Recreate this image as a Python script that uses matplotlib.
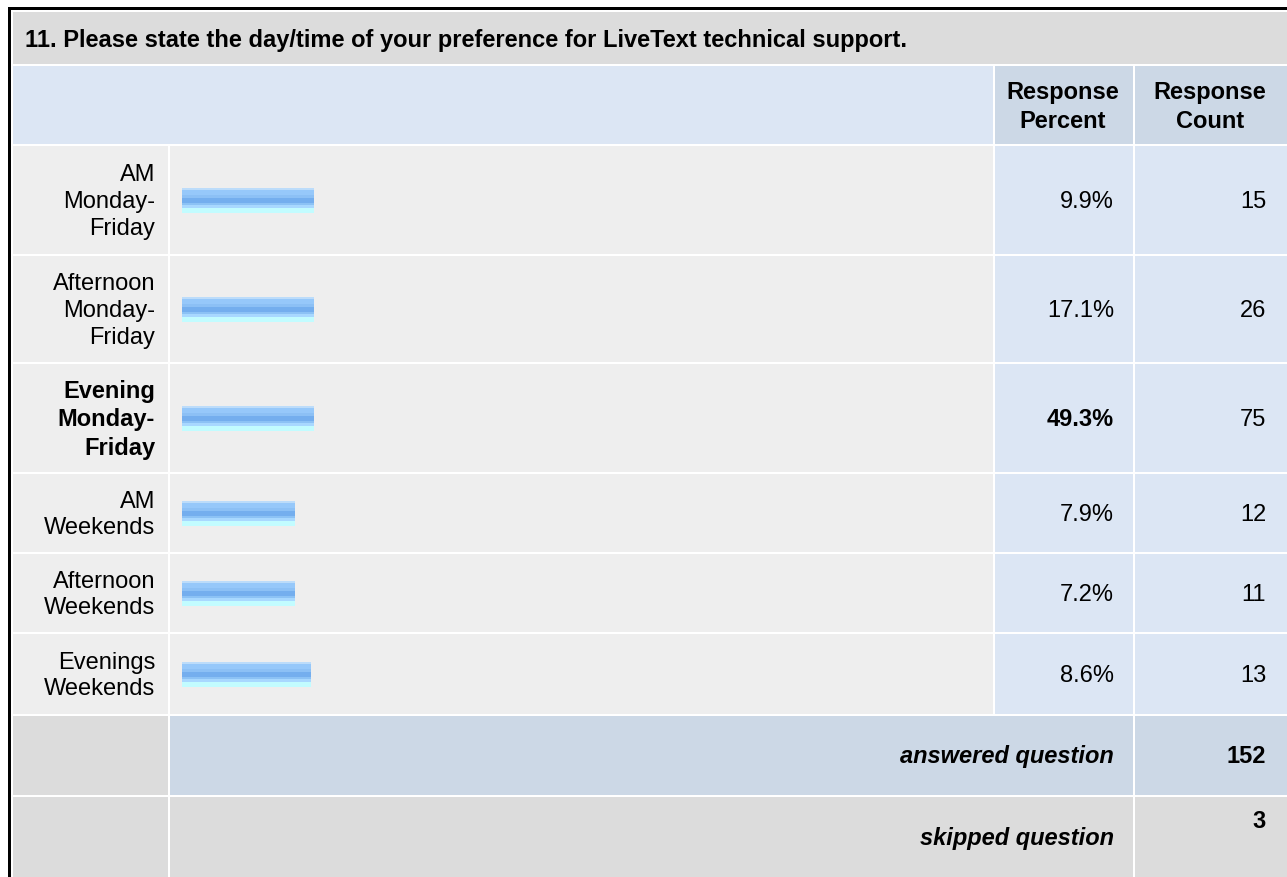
import matplotlib.pyplot as plt
from matplotlib.patches import Rectangle

plt.rcParams['font.family'] = ['Liberation Sans', 'DejaVu Sans']

title = "11. Please state the day/time of your preference for LiveText technical support."
labels = ["AM\nMonday-\nFriday", "Afternoon\nMonday-\nFriday", "Evening\nMonday-\nFriday",
          "AM\nWeekends", "Afternoon\nWeekends", "Evenings\nWeekends"]
percents = [9.9, 17.1, 49.3, 7.9, 7.2, 8.6]
counts = [15, 26, 75, 12, 11, 13]
# bar lengths as drawn in the original (not proportional to percent)
bar_lengths = [132, 132, 132, 113, 113, 129]
answered = 152
skipped = 3
top_choice = 2

W, H = 1287, 878
FS = 17
fig = plt.figure(figsize=(W / 100, H / 100), dpi=100)
ax = fig.add_axes([0, 0, 1, 1])
ax.set_xlim(0, W)
ax.set_ylim(H, 0)
ax.axis('off')

GREY = '#dcdcdc'
LIGHT = '#eeeeee'
BLUE = '#dce6f4'
BLUE2 = '#ccd8e6'

def cell(x0, x1, y0, y1, c):
    ax.add_patch(Rectangle((x0, y0), x1 - x0, y1 - y0, facecolor=c, edgecolor='none'))

# column edges
c_lab = (13, 168)
c_bar = (170, 993)
c_pct = (995, 1133)
c_cnt = (1135, W)

# outer border
ax.add_patch(Rectangle((8, 8), W, 3, facecolor='black', edgecolor='none'))
ax.add_patch(Rectangle((8, 8), 3, H, facecolor='black', edgecolor='none'))

# title band
cell(13, W, 13, 65, GREY)
ax.text(25, 40, title, fontsize=FS, fontweight='bold', ha='left', va='center')

# header
cell(13, 993, 67, 145, BLUE)
cell(*c_pct, 67, 145, BLUE2)
cell(*c_cnt, 67, 145, BLUE2)
ax.text(1063, 107, "Response\nPercent", fontsize=FS, fontweight='bold', ha='center', va='center',
        linespacing=1.3)
ax.text(1210, 107, "Response\nCount", fontsize=FS, fontweight='bold', ha='center', va='center',
        linespacing=1.3)

# rows
row_edges = [(147, 255), (257, 363), (365, 473), (475, 553), (555, 633), (635, 715)]
stripes = ['#bcdcfa', '#96c8fa', '#96c8fa', '#8cc0f5', '#74aeee', '#74aeee',
           '#8cc2f5', '#a8d8ff', '#c2fcff', '#c2fcff']
bar_h = 25
for i, (y0, y1) in enumerate(row_edges):
    cell(*c_lab, y0, y1, LIGHT)
    cell(*c_bar, y0, y1, LIGHT)
    cell(*c_pct, y0, y1, BLUE)
    cell(*c_cnt, y0, y1, BLUE)
    yc = (y0 + y1) / 2
    w = 'bold' if i == top_choice else 'normal'
    ax.text(155, yc + 1, labels[i], fontsize=FS, fontweight=w, ha='right', va='center',
            linespacing=1.28)
    ax.text(1114, yc + 1, f"{percents[i]:.1f}%", fontsize=FS, fontweight=w, ha='right', va='center')
    ax.text(1266, yc + 1, str(counts[i]), fontsize=FS, ha='right', va='center')
    sh = bar_h / len(stripes)
    for k, col in enumerate(stripes):
        ax.barh(yc - bar_h / 2 + sh * (k + 0.5), bar_lengths[i], height=sh, left=182,
                color=col, linewidth=0)

# answered / skipped
cell(*c_lab, 717, 796, GREY)
cell(170, 1133, 717, 796, BLUE2)
cell(*c_cnt, 717, 796, BLUE2)
ax.text(1114, 757, "answered question", fontsize=FS, fontweight='bold', style='italic',
        ha='right', va='center')
ax.text(1266, 757, str(answered), fontsize=FS, fontweight='bold', ha='right', va='center')

cell(*c_lab, 798, H, GREY)
cell(170, 1133, 798, H, GREY)
cell(*c_cnt, 798, H, GREY)
ax.text(1114, 839, "skipped question", fontsize=FS, fontweight='bold', style='italic',
        ha='right', va='center')
ax.text(1266, 822, str(skipped), fontsize=FS, fontweight='bold', ha='right', va='center')

fig.savefig('out.png', dpi=100)
